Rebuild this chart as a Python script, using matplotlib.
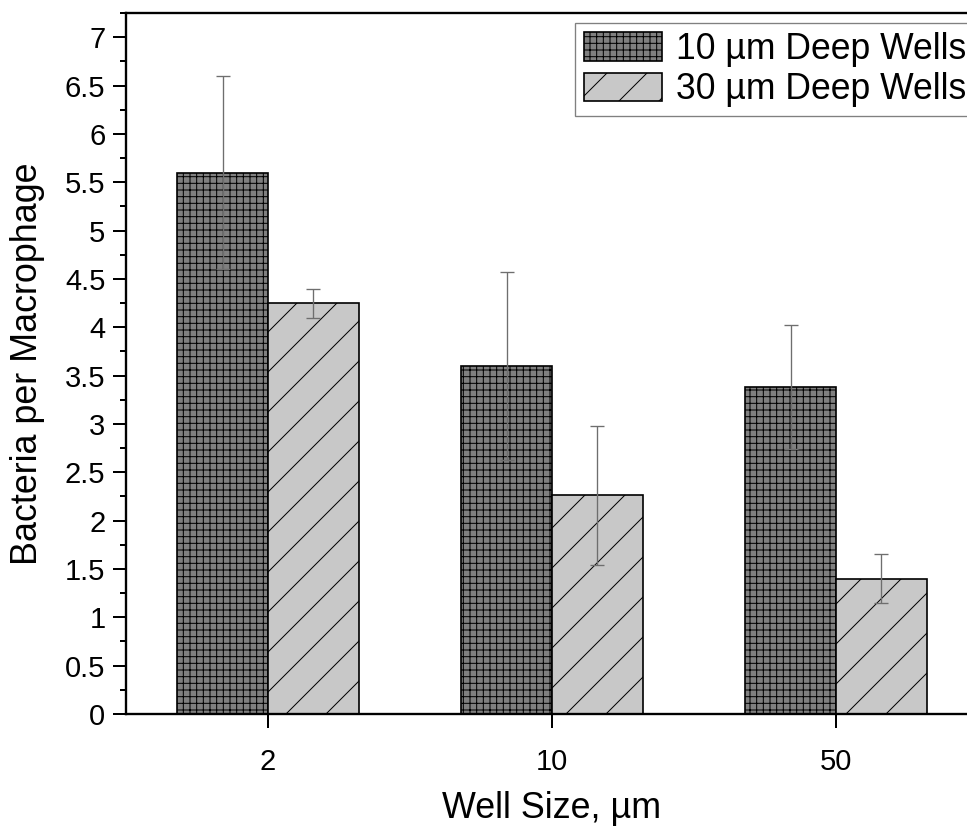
import numpy as np
import matplotlib
matplotlib.use('Agg')
import matplotlib.pyplot as plt
from matplotlib.ticker import MultipleLocator, FuncFormatter

# data
well_sizes = ['2', '10', '50']
deep10_mean = [5.6, 3.6, 3.38]
deep10_err = [1.0, 0.97, 0.64]
deep30_mean = [4.25, 2.26, 1.40]
deep30_err = [0.15, 0.72, 0.25]
series_labels = ['10 \u00b5m Deep Wells', '30 \u00b5m Deep Wells']

plt.rcParams['font.family'] = ['Liberation Sans', 'DejaVu Sans']
plt.rcParams['hatch.linewidth'] = 0.6

dpi = 120
fig = plt.figure(figsize=(967/dpi, 828/dpi), dpi=dpi)
ax = fig.add_axes([126/967., 1-714/828., (978-126)/967., (714-13)/828.])

x = np.arange(len(well_sizes))
w = 0.32
ax.bar(x-w/2, deep10_mean, w, color='#808080', edgecolor='black', linewidth=1.0,
	hatch='+++', label=series_labels[0], zorder=2)
ax.bar(x+w/2, deep30_mean, w, color='#c8c8c8', edgecolor='black', linewidth=1.0,
	hatch='/', label=series_labels[1], zorder=2)
ax.errorbar(x-w/2, deep10_mean, yerr=deep10_err, fmt='none', ecolor='#6e6e6e',
	elinewidth=0.8, capsize=4.2, capthick=0.8, zorder=3)
ax.errorbar(x+w/2, deep30_mean, yerr=deep30_err, fmt='none', ecolor='#6e6e6e',
	elinewidth=0.8, capsize=4.2, capthick=0.8, zorder=3)

ax.set_xlim(-0.5, 2.5)
ax.set_ylim(0, 7.25)
ax.set_xticks(x)
ax.set_xticklabels(well_sizes)
ax.yaxis.set_major_locator(MultipleLocator(0.5))
ax.yaxis.set_minor_locator(MultipleLocator(0.25))
ax.yaxis.set_major_formatter(FuncFormatter(lambda v, p: '%g' % v))

for s in ax.spines.values():
	s.set_linewidth(1.4)
ax.tick_params(axis='y', which='major', direction='out', length=7.8, width=1.2, labelsize=17.5, pad=4.5)
ax.tick_params(axis='y', which='minor', direction='out', length=3.8, width=1.2)
ax.tick_params(axis='x', direction='out', length=8.4, width=1.2, labelsize=17.5, pad=12)

ax.set_xlabel('Well Size, \u00b5m', fontsize=21.5, labelpad=9)
ax.set_ylabel('Bacteria per Macrophage', fontsize=21.5, labelpad=12)

leg = ax.legend(loc='upper left', bbox_to_anchor=(575/967., 1-23/828.),
	bbox_transform=fig.transFigure, borderaxespad=0, fontsize=21.3,
	handlelength=2.2, handleheight=0.85, handletextpad=0.4, labelspacing=0.15,
	borderpad=0.25, fancybox=False, framealpha=1, edgecolor='#808080')
leg.get_frame().set_linewidth(0.8)

fig.savefig('out.png', dpi=dpi)
